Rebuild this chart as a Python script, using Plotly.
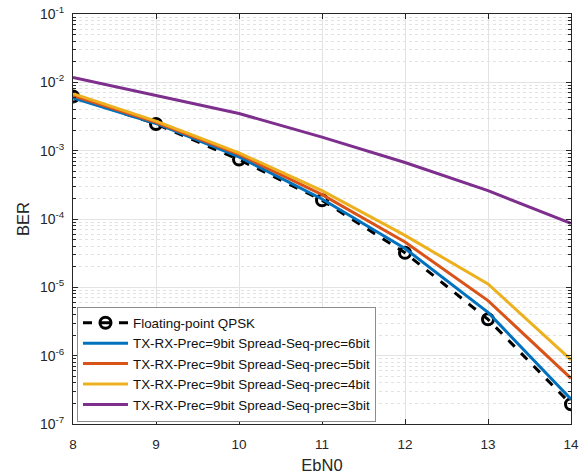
import plotly.graph_objects as go

# Eb/N0 sweep (dB)
ebn0 = [8, 9, 10, 11, 12, 13, 14]

# Measured bit error rates
ber_float = [6.2e-3, 2.46e-3, 7.4e-4, 1.88e-4, 3.2e-5, 3.4e-6, 1.95e-7]
ber_6bit = [5.9e-3, 2.5e-3, 8.1e-4, 1.96e-4, 3.7e-5, 4.3e-6, 2.3e-7]
ber_5bit = [6.4e-3, 2.6e-3, 8.8e-4, 2.27e-4, 4.6e-5, 6.4e-6, 4.65e-7]
ber_4bit = [6.8e-3, 2.7e-3, 9.3e-4, 2.6e-4, 5.75e-5, 1.12e-5, 8.7e-7]
ber_3bit = [1.18e-2, 6.45e-3, 3.5e-3, 1.58e-3, 6.7e-4, 2.6e-4, 8.6e-5]

names = [
    "Floating-point QPSK",
    "TX-RX-Prec=9bit Spread-Seq-prec=6bit",
    "TX-RX-Prec=9bit Spread-Seq-prec=5bit",
    "TX-RX-Prec=9bit Spread-Seq-prec=4bit",
    "TX-RX-Prec=9bit Spread-Seq-prec=3bit",
]

y_exponents = [-7, -6, -5, -4, -3, -2, -1]
y_tickvals = [10.0 ** e for e in y_exponents]
y_ticktext = ["10<sup>%d</sup>" % e for e in y_exponents]
y_minor = [k * 10.0 ** e for e in y_exponents[:-1] for k in range(2, 10)]

FONT = "Liberation Sans, Arial, Helvetica, sans-serif"
AX = "#262626"

fig = go.Figure()

fig.add_trace(go.Scatter(
    x=ebn0, y=ber_float, name=names[0], mode="lines+markers",
    line=dict(color="black", width=3, dash="dash"),
    marker=dict(symbol="circle-open", size=11, color="black",
                line=dict(width=3, color="black")),
))

series = [ber_6bit, ber_5bit, ber_4bit, ber_3bit]
colors = ["#0072BD", "#D95319", "#EDB120", "#7E2F8E"]
for vals, nm, c in zip(series, names[1:], colors):
    fig.add_trace(go.Scatter(
        x=ebn0, y=vals, name=nm, mode="lines",
        line=dict(color=c, width=3),
    ))

fig.update_layout(
    width=587, height=474,
    margin=dict(l=73, r=16, t=14, b=50),
    paper_bgcolor="white", plot_bgcolor="white",
    font=dict(family=FONT, color=AX, size=13.5),
    showlegend=True,
    legend=dict(
        x=0.008, y=0.006, xanchor="left", yanchor="bottom",
        bgcolor="white", bordercolor="#8c8c8c", borderwidth=1,
        font=dict(size=13.4, color="#111111", family=FONT),
        itemwidth=45, tracegroupgap=0,
    ),
)

fig.update_xaxes(
    range=[8, 14], tickvals=ebn0, ticks="inside", ticklen=5,
    tickcolor=AX, showline=True, linecolor=AX, linewidth=1, mirror="ticks",
    showgrid=True, gridcolor="#e3e3e3", gridwidth=1, zeroline=False,
    tickfont=dict(size=13.5, color=AX), ticklabelstandoff=8,
    automargin=False,
    title=dict(text="EbN0", font=dict(size=16.5, color=AX), standoff=8),
)

fig.update_yaxes(
    type="log", range=[-7, -1], tickmode="array",
    tickvals=y_tickvals, ticktext=y_ticktext,
    ticks="inside", ticklen=5, tickcolor=AX,
    showline=True, linecolor=AX, linewidth=1, mirror="ticks",
    showgrid=True, gridcolor="#e3e3e3", gridwidth=1, zeroline=False,
    tickfont=dict(size=14, color=AX), ticklabelstandoff=5,
    automargin=False,
    minor=dict(tickmode="array", tickvals=y_minor, ticks="inside",
               ticklen=3, tickcolor=AX, showgrid=True,
               gridcolor="#e2e2e2", griddash="dot", gridwidth=1),
    title=dict(text="BER", font=dict(size=16.5, color=AX), standoff=6),
)

fig.write_html("out.html")
